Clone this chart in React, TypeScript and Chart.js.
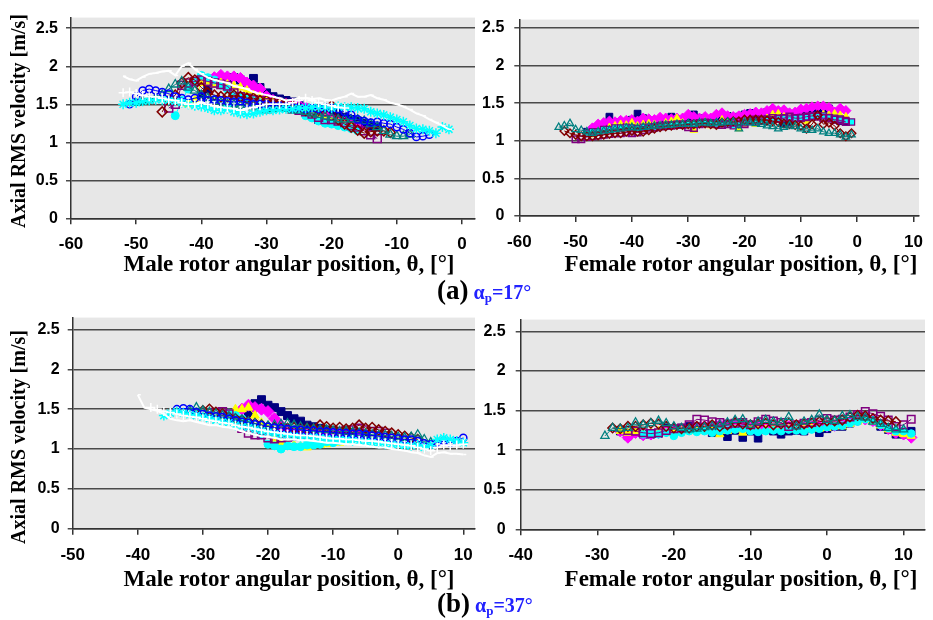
import React, { useEffect, useRef } from "react";
import { Chart, registerables } from "chart.js";
Chart.register(...registerables);

const _ = null;

// ---------- (a) alpha_p = 17°, male rotor ----------
const thetaMaleA = [-52,-51,-50,-49,-48,-47,-46,-45,-44,-43,-42,-41,-40,-39,-38,-37,-36,-35,-34,-33,-32,-31,-30,-29,-28,-27,-26,-25,-24,-23,-22,-21,-20,-19,-18,-17,-16,-15,-14,-13,-12,-11,-10,-9,-8,-7,-6,-5,-4,-3,-2];
const maleA_navy = [_,_,_,_,_,_,_,_,_,_,_,_,1.62,1.70,1.78,1.84,1.85,1.85,1.82,1.78,1.84,1.72,1.65,1.60,1.57,1.55,1.53,1.50,1.45,1.35,1.30,1.38,1.40,1.38,1.33,1.30,1.28,1.25,1.22,1.20];
const maleA_magenta = [_,_,_,_,_,_,_,_,_,_,_,_,_,_,1.85,1.88,1.86,1.86,1.84,1.78,1.74,1.70,1.60,1.55,1.52,1.50,1.50,1.48,1.45,1.40,1.38,1.35,1.30,1.28,1.25,1.22,1.20];
const maleA_yellow = [_,_,_,_,_,_,_,_,_,_,1.50,1.55,1.78,1.80,1.76,1.78,1.76,1.74,1.72,1.68,1.62,1.60,1.55,1.52,1.50,1.48,1.46,1.44,1.40,1.38,1.35,1.30,1.27,1.25,1.22,1.20];
const maleA_cyan = [_,_,_,_,_,_,_,_,1.35,1.55,1.70,1.80,1.88,1.85,1.82,1.75,1.70,1.62,1.60,1.58,1.55,1.52,1.50,1.50,1.48,1.46,1.44,1.42,1.35,1.32,1.28,1.25,1.24,1.22,1.20,1.18,1.15];
const maleA_purple = [_,_,_,_,_,_,_,1.45,1.50,1.75,1.78,1.80,1.82,1.80,1.78,1.76,1.74,1.65,1.60,1.58,1.56,1.55,1.52,1.50,1.48,1.46,1.44,1.42,1.40,1.37,1.33,1.30,1.30,1.28,1.26,1.22,1.20,1.15,1.10,1.05];
const maleA_darkred = [_,_,_,_,_,_,1.40,1.55,1.62,1.78,1.85,1.82,1.72,1.65,1.62,1.60,1.60,1.62,1.60,1.58,1.58,1.55,1.55,1.53,1.52,1.50,1.48,1.46,1.42,1.40,1.42,1.45,1.48,1.30,1.24,1.20,1.16,1.12,1.14,1.15,1.15,1.13];
const maleA_teal = [_,_,1.52,1.54,1.55,1.58,1.62,1.70,1.76,1.80,1.72,1.68,1.62,1.58,1.55,1.52,1.50,1.50,1.48,1.48,1.46,1.44,1.42,1.44,1.45,1.44,1.42,1.42,1.40,1.38,1.36,1.34,1.32,1.30,1.30,1.30,1.30,1.28,1.24,1.20,1.15,1.10,1.08,1.08,1.10];
const maleA_blue = [_,1.50,1.60,1.68,1.70,1.68,1.66,1.64,1.60,1.58,1.56,1.58,1.60,1.55,1.56,1.55,1.54,1.53,1.54,1.52,1.50,1.50,1.50,1.48,1.48,1.47,1.46,1.46,1.44,1.45,1.44,1.46,1.45,1.44,1.40,1.36,1.30,1.28,1.26,1.27,1.25,1.24,1.20,1.17,1.12,1.07,1.08,1.10];
const maleA_star = [1.50,1.52,1.52,1.54,1.55,1.56,1.56,1.55,1.54,1.52,1.50,1.48,1.47,1.45,1.42,1.42,1.44,1.40,1.38,1.37,1.38,1.40,1.42,1.42,1.43,1.44,1.44,1.45,1.45,1.46,1.46,1.46,1.45,1.47,1.46,1.46,1.45,1.44,1.40,1.38,1.36,1.33,1.30,1.27,1.22,1.18,1.17,1.15,1.12,1.20,1.17];
const maleA_white = [1.87,1.83,1.81,1.86,1.90,1.91,1.93,1.94,1.88,2.00,2.04,1.96,1.90,1.85,1.82,1.80,1.78,1.74,1.72,1.70,1.66,1.64,1.62,1.60,1.58,1.55,1.56,1.58,1.58,1.57,1.58,1.56,1.55,1.58,1.60,1.64,1.60,1.60,1.62,1.58,1.56,1.52,1.50,1.47,1.43,1.38,1.35,1.30,1.26,1.22,1.17];
const maleA_plus = [1.65,1.66,1.64,1.62,1.60,1.60,1.58,1.56,1.55,1.52,1.50,1.50,1.52,1.50,1.48,1.46,1.45,1.44,1.42,1.44,1.46,1.48,1.50,1.50,1.50,1.50,1.52,1.55,1.58,1.55,1.52,1.50,1.48,1.46,1.45];

// ---------- (a) alpha_p = 17°, female rotor ----------
const thetaFemaleA = [-53,-52,-51,-50,-49,-48,-47,-46,-45,-44,-43,-42,-41,-40,-39,-38,-37,-36,-35,-34,-33,-32,-31,-30,-29,-28,-27,-26,-25,-24,-23,-22,-21,-20,-19,-18,-17,-16,-15,-14,-13,-12,-11,-10,-9,-8,-7,-6,-5,-4,-3,-2,-1];
const femA_navy = [_,_,_,_,_,1.12,1.15,1.18,1.20,1.32,1.25,1.24,1.25,1.28,1.36,1.30,1.25,1.24,1.24,1.24,1.32,1.28,1.25,1.26,1.35,1.30,1.26,1.28,1.27,1.30,1.33,1.30,1.32,1.35,1.37,1.34,1.33,1.38,1.40,1.38,1.22,1.24,1.30,1.32,1.36,1.38,1.38,1.36,1.43,1.28,1.26,1.25];
const femA_magenta = [_,_,_,_,_,_,1.17,1.22,1.24,1.26,1.25,1.27,1.27,1.28,1.26,1.30,1.29,1.28,1.31,1.30,1.29,1.30,1.30,1.35,1.32,1.30,1.32,1.30,1.35,1.37,1.33,1.32,1.33,1.35,1.36,1.38,1.37,1.40,1.43,1.40,1.41,1.37,1.38,1.42,1.43,1.45,1.46,1.46,1.44,1.38,1.43,1.40];
const femA_yellow = [_,_,_,_,_,_,1.08,1.12,1.14,1.18,1.20,1.22,1.21,1.24,1.20,1.22,1.23,1.22,1.21,1.24,1.26,1.30,1.24,1.20,1.14,1.22,1.25,1.20,1.22,1.28,1.25,1.20,1.16,1.22,1.26,1.22,1.28,1.30,1.35,1.36,1.32,1.30,1.28,1.30,1.26,1.30,1.32,1.35,1.34,1.36,1.34,1.32];
const femA_cyan = [_,_,_,_,_,1.10,1.12,1.12,1.15,1.15,1.17,1.17,1.18,1.17,1.16,1.18,1.18,1.17,1.20,1.20,1.21,1.22,1.22,1.22,1.23,1.24,1.23,1.24,1.22,1.23,1.22,1.20,1.22,1.24,1.26,1.25,1.26,1.27,1.28,1.30,1.30,1.30,1.30,1.31,1.31,1.32,1.33,1.33,1.31,1.30,1.29,1.27,1.25];
const femA_purple = [_,_,_,1.02,1.02,1.05,1.06,1.07,1.08,1.09,1.10,1.10,1.11,1.10,1.11,1.14,1.16,1.18,1.19,1.20,1.20,1.21,1.21,1.18,1.17,1.22,1.24,1.23,1.22,1.21,1.22,1.24,1.25,1.22,1.26,1.28,1.27,1.28,1.30,1.29,1.30,1.32,1.30,1.30,1.32,1.33,1.32,1.30,1.30,1.28,1.27,1.25];
const femA_darkred = [_,1.13,1.10,1.08,1.06,1.06,1.06,1.07,1.08,1.09,1.10,1.10,1.12,1.13,1.12,1.12,1.14,1.16,1.18,1.19,1.20,1.21,1.21,1.22,1.22,1.23,1.23,1.22,1.21,1.24,1.25,1.26,1.26,1.28,1.28,1.28,1.28,1.27,1.26,1.25,1.23,1.22,1.21,1.20,1.16,1.22,1.34,1.22,1.24,1.20,1.10,1.06,1.10];
const femA_teal = [1.18,1.20,1.23,1.15,1.14,1.12,1.10,1.12,1.13,1.14,1.15,1.16,1.17,1.18,1.17,1.18,1.19,1.20,1.20,1.21,1.21,1.22,1.22,1.23,1.22,1.24,1.24,1.23,1.24,1.24,1.25,1.25,1.16,1.25,1.24,1.23,1.22,1.20,1.19,1.16,1.18,1.20,1.19,1.16,1.14,1.14,1.16,1.12,1.10,1.10,1.08,1.05,1.08];

// ---------- (b) alpha_p = 37°, male rotor ----------
const thetaMaleB = [-40,-39,-38,-37,-36,-35,-34,-33,-32,-31,-30,-29,-28,-27,-26,-25,-24,-23,-22,-21,-20,-19,-18,-17,-16,-15,-14,-13,-12,-11,-10,-9,-8,-7,-6,-5,-4,-3,-2,-1,0,1,2,3,4,5,6,7,8,9,10];
const maleB_navy = [_,_,_,_,_,_,_,_,_,_,_,_,_,_,_,_,_,1.45,1.57,1.62,1.55,1.52,1.47,1.42,1.38,1.35,1.30,1.28,1.26,1.24,1.23,1.22,1.21,1.20,1.19,1.18];
const maleB_magenta = [_,_,_,_,_,_,_,_,_,_,_,_,_,_,_,_,1.50,1.55,1.52,1.50,1.47,1.38,1.30,1.24,1.20,1.20,1.18,1.20,1.20,1.19,1.20,1.19,1.18,1.17,1.16];
const maleB_yellow = [_,_,_,_,_,_,_,_,_,_,_,_,_,_,_,1.50,1.50,1.52,1.42,1.33,1.25,1.12,1.08,1.06,1.05,1.03,1.02,1.05,1.05,1.06,1.08,1.08,1.10];
const maleB_cyan = [_,_,_,_,_,_,_,_,_,_,_,_,_,_,1.45,1.42,1.38,1.32,1.26,1.18,1.06,1.04,1.00,1.04,1.03,1.03,1.05,1.05,1.06,1.09,1.08,1.10,1.12,1.14];
const maleB_purple = [_,_,_,_,_,_,_,_,_,_,_,_,1.46,1.47,1.44,1.35,1.26,1.20,1.18,1.18,1.14,1.13,1.14,1.15,1.16,1.17,1.18,1.19,1.20,1.20,1.21,1.22,1.23,1.24,1.26,1.24,1.22,1.22,1.20];
const maleB_darkred = [_,_,_,_,_,_,_,_,_,_,1.48,1.50,1.46,1.44,1.40,1.38,1.36,1.34,1.32,1.30,1.28,1.27,1.26,1.26,1.27,1.26,1.26,1.25,1.30,1.28,1.26,1.27,1.25,1.26,1.30,1.26,1.27,1.24,1.22,1.20,1.18,1.16,1.14,1.12];
const maleB_teal = [_,_,_,_,_,_,_,_,1.48,1.52,1.48,1.46,1.44,1.42,1.40,1.38,1.36,1.34,1.32,1.30,1.29,1.30,1.31,1.32,1.30,1.28,1.26,1.25,1.24,1.24,1.23,1.22,1.22,1.21,1.20,1.19,1.18,1.17,1.17,1.16,1.15,1.14,1.15,1.18,1.12,1.08];
const maleB_blue = [_,_,_,_,_,_,1.50,1.51,1.50,1.46,1.44,1.42,1.41,1.40,1.38,1.36,1.34,1.33,1.31,1.30,1.28,1.27,1.26,1.25,1.24,1.24,1.23,1.23,1.22,1.22,1.21,1.20,1.20,1.19,1.19,1.18,1.17,1.16,1.15,1.14,1.13,1.12,1.12,1.10,1.07,1.06,1.08,1.10,1.08,1.10,1.14];
const maleB_star = [_,_,_,_,1.42,1.45,1.47,1.45,1.43,1.42,1.40,1.38,1.36,1.34,1.33,1.30,1.28,1.27,1.25,1.23,1.21,1.19,1.18,1.17,1.16,1.15,1.14,1.15,1.14,1.13,1.12,1.12,1.11,1.10,1.10,1.09,1.08,1.07,1.06,1.06,1.05,1.04,1.04,1.05,1.02,1.04,1.12,1.14,1.12,1.10,1.08];
const maleB_white = [1.68,1.52,1.50,1.48,1.44,1.38,1.36,1.35,1.36,1.34,1.32,1.30,1.30,1.28,1.27,1.25,1.22,1.20,1.18,1.16,1.15,1.14,1.12,1.12,1.12,1.11,1.11,1.10,1.09,1.08,1.08,1.07,1.06,1.06,1.05,1.04,1.03,1.02,1.02,1.00,0.99,0.98,0.96,0.95,0.92,0.90,0.95,0.96,0.94,0.94,0.93];
const maleB_plus = [_,_,1.52,1.50,1.47,1.46,1.44,1.42,1.41,1.40,1.38,1.36,1.35,1.33,1.32,1.30,1.28,1.27,1.25,1.24,1.22,1.21,1.20,1.19,1.18,1.17,1.17,1.16,1.15,1.14,1.13,1.13,1.12,1.12,1.11,1.10,1.10,1.09,1.08,1.07,1.06,1.05,1.04,1.02,1.00,0.98,1.02,1.05,1.04,1.05,1.06];

// ---------- (b) alpha_p = 37°, female rotor ----------
const thetaFemaleB = [-29,-28,-27,-26,-25,-24,-23,-22,-21,-20,-19,-18,-17,-16,-15,-14,-13,-12,-11,-10,-9,-8,-7,-6,-5,-4,-3,-2,-1,0,1,2,3,4,5,6,7,8,9,10,11];
const femB_navy = [_,_,1.24,1.18,1.22,1.20,1.20,1.21,1.28,1.25,1.28,1.30,1.28,1.26,1.22,1.25,1.17,1.25,1.16,1.24,1.15,1.26,1.24,1.20,1.24,1.25,1.24,1.28,1.22,1.27,1.30,1.30,1.34,1.38,1.40,1.37,1.30,1.26,1.20,1.20,1.24];
const femB_magenta = [_,_,1.24,1.16,1.22,1.19,1.20,1.22,1.24,1.26,1.25,1.27,1.29,1.30,1.30,1.32,1.33,1.34,1.33,1.30,1.30,1.29,1.28,1.28,1.30,1.30,1.29,1.30,1.30,1.30,1.31,1.33,1.36,1.38,1.39,1.37,1.32,1.27,1.22,1.20,1.16];
const femB_yellow = [_,_,1.24,1.22,1.24,1.22,1.23,1.24,1.22,1.22,1.24,1.24,1.24,1.25,1.24,1.20,1.24,1.26,1.22,1.26,1.25,1.26,1.28,1.27,1.27,1.26,1.27,1.28,1.27,1.28,1.30,1.30,1.33,1.36,1.38,1.36,1.31,1.26,1.22,1.20,1.18];
const femB_cyan = [_,_,_,_,_,1.20,1.21,1.20,1.22,1.18,1.22,1.24,1.23,1.24,1.22,1.24,1.25,1.26,1.27,1.24,1.23,1.24,1.25,1.24,1.26,1.25,1.24,1.26,1.27,1.29,1.30,1.31,1.34,1.36,1.39,1.38,1.32,1.28,1.24,1.24,1.21];
const femB_purple = [_,_,_,1.25,1.24,1.22,1.21,1.22,1.25,1.27,1.28,1.32,1.39,1.38,1.36,1.35,1.33,1.34,1.35,1.32,1.36,1.39,1.37,1.35,1.30,1.32,1.34,1.35,1.38,1.40,1.38,1.39,1.42,1.45,1.49,1.46,1.43,1.38,1.30,1.32,1.39];
const femB_darkred = [_,1.28,1.27,1.30,1.30,1.32,1.34,1.33,1.30,1.28,1.27,1.28,1.30,1.30,1.32,1.30,1.32,1.35,1.33,1.32,1.33,1.34,1.32,1.33,1.34,1.32,1.33,1.34,1.36,1.37,1.37,1.38,1.42,1.44,1.43,1.40,1.38,1.37,1.36];
const femB_teal = [1.18,1.28,1.27,1.28,1.35,1.32,1.34,1.37,1.34,1.30,1.28,1.26,1.27,1.29,1.30,1.32,1.35,1.38,1.39,1.32,1.36,1.38,1.36,1.35,1.42,1.30,1.36,1.38,1.45,1.38,1.37,1.43,1.44,1.42,1.41,1.36,1.33,1.28,1.26,1.26];

// ---------- axis tick settings ----------
const yTickStep = 0.5;
const xTickStep = 10;

// ---------- marker styles (presentation only) ----------
type Sty = { color: string; ps: any; fill: string; r: number; bw: number; lw: number; pb?: string };
const S: Record<string, Sty> = {
  navy: { color: "#000080", ps: "rect", fill: "#000080", r: 5.6, bw: 1, lw: 1 },
  magenta: { color: "#ff00ff", ps: "rectRot", fill: "#ff00ff", r: 6, bw: 1, lw: 1 },
  yellow: { color: "#ffff00", ps: "triangle", fill: "#ffff00", r: 5, bw: 1, lw: 1 },
  cyan: { color: "#00ffff", ps: "circle", fill: "#00ffff", r: 4, bw: 1, lw: 1 },
  cyanSq: { color: "#00ffff", ps: "rect", fill: "#00ffff", r: 5.2, bw: 1.2, lw: 1, pb: "#800080" },
  purple: { color: "#800080", ps: "rect", fill: "rgba(0,0,0,0)", r: 5.6, bw: 1.5, lw: 1 },
  darkred: { color: "#800000", ps: "rectRot", fill: "rgba(0,0,0,0)", r: 5, bw: 1.5, lw: 1 },
  teal: { color: "#008080", ps: "triangle", fill: "rgba(0,0,0,0)", r: 5, bw: 1.3, lw: 1 },
  blue: { color: "#0000ff", ps: "circle", fill: "rgba(0,0,0,0)", r: 3.6, bw: 1.5, lw: 1 },
  star: { color: "#00ffff", ps: "star", fill: "rgba(0,0,0,0)", r: 5, bw: 1.5, lw: 1 },
  white: { color: "#ffffff", ps: "dash", fill: "#ffffff", r: 3, bw: 1.5, lw: 2 },
  plus: { color: "#ffffff", ps: "cross", fill: "#ffffff", r: 4.5, bw: 1.5, lw: 1 },
};

type Ser = { ys: (number | null)[]; s: string };

const panels = [
  {
    key: "aM", theta: thetaMaleA, xMin: -60, xMax: 2, yMax: 2.64,
    left: 0, top: 0, w: 483, h: 262, padT: 7, padR: 8, yW: 71, xH: 43.7, yPad: 8, scale: 1,
    series: [
      { ys: maleA_navy, s: "navy" }, { ys: maleA_magenta, s: "magenta" }, { ys: maleA_yellow, s: "yellow" },
      { ys: maleA_cyan, s: "cyan" }, { ys: maleA_purple, s: "purple" }, { ys: maleA_darkred, s: "darkred" },
      { ys: maleA_teal, s: "teal" }, { ys: maleA_blue, s: "blue" }, { ys: maleA_star, s: "star" },
      { ys: maleA_white, s: "white" }, { ys: maleA_plus, s: "plus" },
    ] as Ser[],
  },
  {
    key: "aF", theta: thetaFemaleA, xMin: -60, xMax: 11, yMax: 2.61,
    left: 470, top: 0, w: 463, h: 262, padT: 7, padR: 8, yW: 49.3, xH: 46, yPad: 10, scale: 0.85,
    series: [
      { ys: femA_navy, s: "navy" }, { ys: femA_magenta, s: "magenta" }, { ys: femA_yellow, s: "yellow" },
      { ys: femA_cyan, s: "cyanSq" }, { ys: femA_purple, s: "purple" }, { ys: femA_darkred, s: "darkred" },
      { ys: femA_teal, s: "teal" },
    ] as Ser[],
  },
  {
    key: "bM", theta: thetaMaleB, xMin: -50, xMax: 11.8, yMax: 2.65,
    left: 0, top: 300, w: 483, h: 273, padT: 17.3, padR: 8, yW: 72.7, xH: 44.3, yPad: 8, scale: 1,
    series: [
      { ys: maleB_navy, s: "navy" }, { ys: maleB_magenta, s: "magenta" }, { ys: maleB_yellow, s: "yellow" },
      { ys: maleB_cyan, s: "cyan" }, { ys: maleB_purple, s: "purple" }, { ys: maleB_darkred, s: "darkred" },
      { ys: maleB_teal, s: "teal" }, { ys: maleB_blue, s: "blue" }, { ys: maleB_star, s: "star" },
      { ys: maleB_white, s: "white" }, { ys: maleB_plus, s: "plus" },
    ] as Ser[],
  },
  {
    key: "bF", theta: thetaFemaleB, xMin: -40, xMax: 12.8, yMax: 2.65,
    left: 470, top: 300, w: 463, h: 273, padT: 17.3, padR: 8, yW: 50.7, xH: 43.7, yPad: 10, scale: 0.95,
    series: [
      { ys: femB_navy, s: "navy" }, { ys: femB_magenta, s: "magenta" }, { ys: femB_yellow, s: "yellow" },
      { ys: femB_cyan, s: "cyan" }, { ys: femB_purple, s: "purple" }, { ys: femB_darkred, s: "darkred" },
      { ys: femB_teal, s: "teal" },
    ] as Ser[],
  },
];

const plotBg = {
  id: "plotBg",
  beforeDraw(chart: any) {
    const { ctx, chartArea } = chart;
    ctx.save();
    ctx.fillStyle = "#e7e7e7";
    ctx.fillRect(chartArea.left, chartArea.top, chartArea.right - chartArea.left, chartArea.bottom - chartArea.top);
    ctx.restore();
  },
};

const tickFont = (size: number) => ({ family: '"Liberation Sans", Arial, sans-serif', weight: "bold" as const, size });
const fmt = (v: any) => String(Math.round(Number(v) * 100) / 100);

function Panel({ p }: { p: (typeof panels)[number] }) {
  const ref = useRef<HTMLCanvasElement>(null);
  useEffect(() => {
    const datasets = p.series
      .map((ser) => {
        const st = S[ser.s];
        const data: { x: number; y: number }[] = [];
        ser.ys.forEach((v, i) => {
          if (v !== null && v !== undefined) data.push({ x: p.theta[i], y: v });
        });
        return {
          data,
          borderColor: st.color,
          borderWidth: st.lw,
          pointStyle: st.ps,
          pointRadius: st.r * p.scale,
          pointBackgroundColor: st.fill,
          pointBorderColor: st.pb || st.color,
          pointBorderWidth: st.bw,
          tension: 0,
          fill: false,
        };
      })
      .reverse();
    const chart = new Chart(ref.current as HTMLCanvasElement, {
      type: "line",
      data: { datasets: datasets as any },
      options: {
        responsive: false,
        animation: false,
        events: [],
        layout: { padding: { left: 0, top: p.padT, right: p.padR, bottom: 0 } },
        plugins: { legend: { display: false }, tooltip: { enabled: false } },
        scales: {
          x: {
            type: "linear",
            min: p.xMin,
            max: p.xMax,
            afterFit: (s: any) => { s.height = p.xH; },
            ticks: { stepSize: xTickStep, includeBounds: false, font: tickFont(17), color: "#000", padding: 10, maxRotation: 0, autoSkip: false, callback: fmt },
            grid: { drawOnChartArea: false, drawTicks: true, tickLength: 6, color: "#333", lineWidth: 1.5 },
            border: { display: true, color: "#333", width: 1.5 },
          },
          y: {
            type: "linear",
            min: 0,
            max: p.yMax,
            afterFit: (s: any) => { s.width = p.yW; },
            ticks: { stepSize: yTickStep, includeBounds: false, font: tickFont(16), color: "#000", padding: p.yPad, callback: fmt },
            grid: { color: "#4a4a4a", lineWidth: 1.5, drawTicks: true, tickLength: 5 },
            border: { display: true, color: "#333", width: 1.5 },
          },
        },
      } as any,
      plugins: [plotBg],
    });
    return () => chart.destroy();
  }, []);
  return (
    <canvas
      ref={ref}
      width={p.w}
      height={p.h}
      style={{ position: "absolute", left: p.left, top: p.top, width: p.w, height: p.h }}
    />
  );
}

const serif = '"Liberation Serif", "Times New Roman", serif';

function YTitle({ cy }: { cy: number }) {
  return (
    <div style={{ position: "absolute", left: 18, top: cy, transform: "translate(-50%, -50%) rotate(-90deg)", whiteSpace: "nowrap", fontFamily: serif, fontWeight: "bold", fontSize: 20, lineHeight: "20px", color: "#000" }}>
      Axial RMS velocity [m/s]
    </div>
  );
}

function XTitle({ cx, cy, text }: { cx: number; cy: number; text: string }) {
  return (
    <div style={{ position: "absolute", left: cx, top: cy, transform: "translate(-50%, -50%)", whiteSpace: "nowrap", fontFamily: serif, fontWeight: "bold", fontSize: 23, lineHeight: "23px", color: "#000" }}>
      {text}
    </div>
  );
}

function Caption({ cy, letter, angle }: { cy: number; letter: string; angle: string }) {
  return (
    <div style={{ position: "absolute", left: 437, top: cy, transform: "translateY(-50%)", whiteSpace: "nowrap", fontFamily: serif, fontWeight: "bold", color: "#000", display: "flex", alignItems: "baseline" }}>
      <span style={{ fontSize: 27, lineHeight: "27px" }}>({letter})</span>
      <span style={{ fontSize: 20, color: "#2222ff", marginLeft: 5 }}>
        α<sub style={{ fontSize: 13, verticalAlign: "-3px" }}>p</sub>={angle}°
      </span>
    </div>
  );
}

export default function App() {
  return (
    <div style={{ position: "fixed", left: 0, top: 0, width: 933, height: 620, background: "#fff", overflow: "hidden" }}>
      {panels.map((p) => (
        <Panel key={p.key} p={p} />
      ))}
      <YTitle cy={121} />
      <YTitle cy={437} />
      <XTitle cx={289} cy={263} text="Male rotor angular position, θ, [°]" />
      <XTitle cx={741} cy={263} text="Female rotor angular position, θ, [°]" />
      <XTitle cx={289} cy={578} text="Male rotor angular position, θ, [°]" />
      <XTitle cx={741} cy={578} text="Female rotor angular position, θ, [°]" />
      <Caption cy={291} letter="a" angle="17" />
      <Caption cy={604} letter="b" angle="37" />
    </div>
  );
}
